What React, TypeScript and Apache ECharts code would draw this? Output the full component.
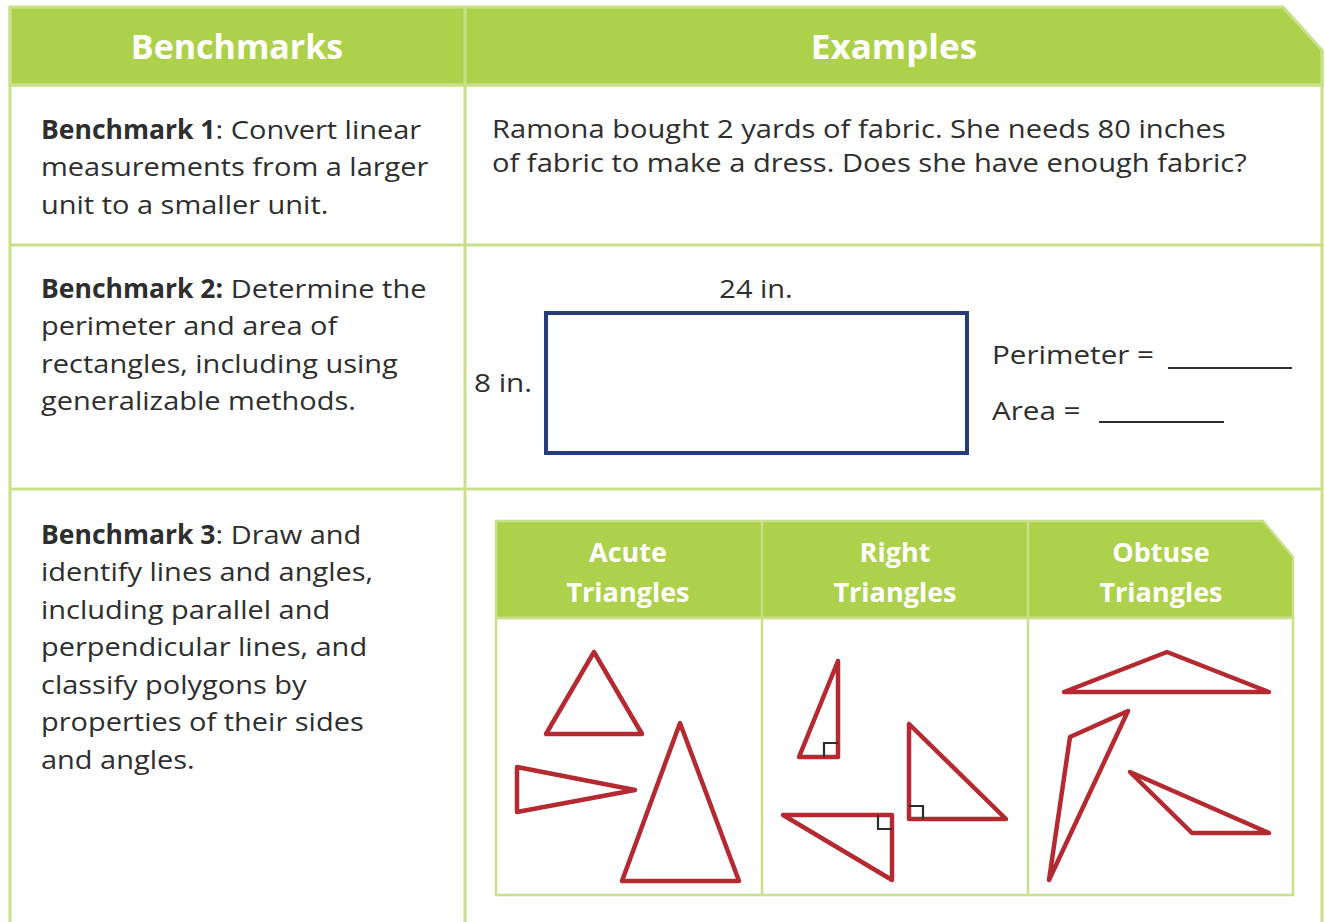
import React, { useEffect, useRef } from "react";
import * as echarts from "echarts";

const headerTitles = ["Benchmarks", "Examples"];
const benchmark1Lines = [
  ["Benchmark 1", ": Convert linear"],
  ["", "measurements from a larger"],
  ["", "unit to a smaller unit."],
];
const benchmark2Lines = [
  ["Benchmark 2:", " Determine the"],
  ["", "perimeter and area of"],
  ["", "rectangles, including using"],
  ["", "generalizable methods."],
];
const benchmark3Lines = [
  ["Benchmark 3", ": Draw and"],
  ["", "identify lines and angles,"],
  ["", "including parallel and"],
  ["", "perpendicular lines, and"],
  ["", "classify polygons by"],
  ["", "properties of their sides"],
  ["", "and angles."],
];
const example1Lines = [
  "Ramona bought 2 yards of fabric. She needs 80 inches",
  "of fabric to make a dress. Does she have enough fabric?",
];
const rectLabels = { top: "24 in.", left: "8 in.", perimeter: "Perimeter =", area: "Area =" };
const triangleHeaders = [
  ["Acute", "Triangles"],
  ["Right", "Triangles"],
  ["Obtuse", "Triangles"],
];
const acuteTriangles = [
  [[594, 652], [546, 734], [642, 734]],
  [[517, 767], [517, 812], [635, 790]],
  [[680, 723], [622, 881], [739, 881]],
];
const rightTriangles = [
  [[838, 661], [799, 757], [838, 757]],
  [[909, 724], [909, 819], [1006, 819]],
  [[783, 815], [892, 815], [892, 880]],
];
const rightMarkers = [
  [[824, 757], [824, 743], [838, 743]],
  [[909, 806], [923, 806], [923, 819]],
  [[878, 815], [878, 829], [892, 829]],
];
const obtuseTriangles = [
  [[1167, 652], [1064, 692], [1269, 692]],
  [[1070, 737], [1128, 711], [1049, 880]],
  [[1130, 772], [1192, 833], [1269, 833]],
];

const GREEN = "#aed14b";
const BORDER = "#c9e08b";
const TEXT = "#2e2e2e";
const RED = "#b52a30";
const NAVY = "#263d7a";
const FONT = "'Open Sans', 'Noto Sans', sans-serif";
const BODY = 26;
const BODY_SX = 1.115;
const BOLD = 26;
const BOLD_SX = 1.02;

let measureCtx: CanvasRenderingContext2D | null = null;
function measure(text: string, font: string) {
  if (!measureCtx) measureCtx = document.createElement("canvas").getContext("2d");
  if (!measureCtx) return text.length * 14;
  measureCtx.font = font;
  return measureCtx.measureText(text).width;
}

function bodyText(x: number, y: number, text: string, opts: any = {}) {
  return {
    type: "text",
    x,
    y,
    scaleX: opts.sx ?? BODY_SX,
    style: {
      text,
      fontFamily: FONT,
      fontSize: opts.size ?? BODY,
      fill: opts.fill || TEXT,
      fontWeight: opts.bold ? "bold" : "normal",
      align: opts.align || "left",
      verticalAlign: "middle",
    },
  };
}

function benchLine(x: number, y: number, parts: string[], out: any[]) {
  const [bold, rest] = parts;
  let cx = x;
  if (bold) {
    out.push(bodyText(cx, y, bold, { bold: true, size: BOLD, sx: BOLD_SX }));
    cx += measure(bold, `bold ${BOLD}px ${FONT}`) * BOLD_SX;
  }
  out.push(bodyText(cx, y, rest));
}

function line(x1: number, y1: number, x2: number, y2: number, color: string, w: number) {
  return { type: "line", shape: { x1, y1, x2, y2 }, style: { stroke: color, lineWidth: w } };
}

function tri(points: number[][], color: string) {
  return {
    type: "polygon",
    shape: { points },
    style: { fill: "none", stroke: color, lineWidth: 4.5, lineJoin: "round" },
  };
}

export default function App() {
  const ref = useRef<HTMLDivElement>(null);
  useEffect(() => {
    if (!ref.current) return;
    const chart = echarts.init(ref.current, null, { renderer: "svg" });
    const els: any[] = [];

    // outer header
    els.push({
      type: "polygon",
      shape: { points: [[10, 7], [1283, 7], [1322, 50], [1322, 85], [10, 85]] },
      style: { fill: GREEN, stroke: BORDER, lineWidth: 3 },
    });
    els.push(line(465, 7, 465, 922, BORDER, 3));
    els.push(line(10, 7, 10, 922, BORDER, 3));
    els.push(line(1322, 50, 1322, 922, BORDER, 3));
    els.push(line(10, 85, 1322, 85, BORDER, 3));
    els.push(line(10, 245, 1322, 245, BORDER, 3));
    els.push(line(10, 489, 1322, 489, BORDER, 3));

    els.push(bodyText(237, 46, headerTitles[0], { size: 34, sx: 1, fill: "#ffffff", bold: true, align: "center" }));
    els.push(bodyText(894, 46, headerTitles[1], { size: 34, sx: 1.03, fill: "#ffffff", bold: true, align: "center" }));

    const lh = 37.5;
    benchmark1Lines.forEach((p, i) => benchLine(41, 129 + i * lh, p, els));
    benchmark2Lines.forEach((p, i) => benchLine(41, 288 + i * lh, p, els));
    benchmark3Lines.forEach((p, i) => benchLine(41, 534 + i * lh, p, els));

    example1Lines.forEach((t, i) => els.push(bodyText(492, 128 + i * 34, t, { sx: 1.12 })));

    // rectangle example
    els.push({
      type: "rect",
      shape: { x: 546, y: 313, width: 421, height: 140 },
      style: { fill: "none", stroke: NAVY, lineWidth: 4 },
    });
    els.push(bodyText(756, 288, rectLabels.top, { align: "center" }));
    els.push(bodyText(474, 382, rectLabels.left, { sx: 1.14 }));
    els.push(bodyText(992, 354, rectLabels.perimeter, { sx: 1.14 }));
    els.push(line(1168, 368, 1292, 368, TEXT, 2));
    els.push(bodyText(992, 410, rectLabels.area, { sx: 1.14 }));
    els.push(line(1099, 422, 1224, 422, TEXT, 2));

    // inner table
    els.push({
      type: "polygon",
      shape: { points: [[496, 521], [1263, 521], [1293, 557], [1293, 618], [496, 618]] },
      style: { fill: GREEN, stroke: BORDER, lineWidth: 2.5 },
    });
    els.push({
      type: "rect",
      shape: { x: 496, y: 618, width: 797, height: 277 },
      style: { fill: "none", stroke: BORDER, lineWidth: 2.5 },
    });
    els.push(line(762, 521, 762, 895, BORDER, 2.5));
    els.push(line(1028, 521, 1028, 895, BORDER, 2.5));
    const colCenters = [628, 895, 1161];
    triangleHeaders.forEach((h, i) => {
      els.push(bodyText(colCenters[i], 551, h[0], { size: 27, sx: 1, fill: "#ffffff", bold: true, align: "center" }));
      els.push(bodyText(colCenters[i], 591, h[1], { size: 27, sx: 1, fill: "#ffffff", bold: true, align: "center" }));
    });

    acuteTriangles.forEach((t) => els.push(tri(t, RED)));
    rightTriangles.forEach((t) => els.push(tri(t, RED)));
    obtuseTriangles.forEach((t) => els.push(tri(t, RED)));
    rightMarkers.forEach((m) =>
      els.push({
        type: "polyline",
        shape: { points: m },
        style: { fill: "none", stroke: TEXT, lineWidth: 2.2 },
      })
    );

    chart.setOption({
      animation: false,
      backgroundColor: "#ffffff",
      graphic: { elements: els },
    });
    return () => chart.dispose();
  }, []);
  return (
    <div
      ref={ref}
      style={{ position: "fixed", left: 0, top: 0, width: 1325, height: 922, background: "#fff" }}
    />
  );
}
